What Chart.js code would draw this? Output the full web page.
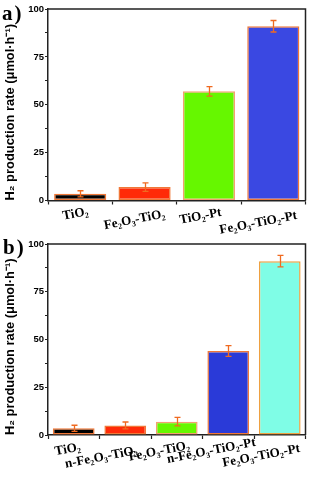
<!DOCTYPE html>
<html><head><meta charset="utf-8">
<script src="https://cdn.jsdelivr.net/npm/chart.js@4.4.1/dist/chart.umd.min.js"></script>
<style>
html,body{margin:0;padding:0;background:#fff;width:309px;height:477px;overflow:hidden;position:relative}
.p{position:absolute;left:0;width:309px}
.lab{position:absolute;font:bold 21px "Liberation Serif",serif;color:#000;z-index:2;line-height:1;letter-spacing:2px}
</style></head><body>
<div class="p" style="top:0;height:236px"><canvas id="ca" width="309" height="236"></canvas></div>
<div class="p" style="top:235px;height:242px"><canvas id="cb" width="309" height="242"></canvas></div>
<div class="lab" style="left:2px;top:3px">a)</div>
<div class="lab" style="left:3px;top:237px">b)</div>
<script>
// ---- data ----
const catsA = ['TiO₂', 'Fe₂O₃-TiO₂', 'TiO₂-Pt', 'Fe₂O₃-TiO₂-Pt'];
const valsA = [3.5, 7, 57, 91];
const errA  = [1.6, 2.2, 2.5, 3];

const catsB = ['TiO₂', 'n-Fe₂O₃-TiO₂', 'Fe₂O₃-TiO₂', 'n-Fe₂O₃-TiO₂-Pt', 'Fe₂O₃-TiO₂-Pt'];
const valsB = [3.5, 5, 7, 44, 91];
const errB  = [1.6, 1.8, 2.2, 2.8, 3];

const yTicks = [0, 25, 50, 75, 100];
const yTitle = 'H₂ production rate (μmol·h⁻¹)';

// ---- styles ----
const colA = ['#000000', '#ff2a08', '#66f700', '#3a48e2'];
const borderA = ['#f07838', '#f07838', '#f4a070', '#f07838'];
const colB = ['#000000', '#ff2a08', '#66f700', '#2a3ad8', '#7ffde6'];
const borderB = ['#f07838', '#f07838', '#f4a070', '#f07838', '#eea040'];
// label placement nudges (label centre relative to tick / axis line), layout only
const nudgeA = [[-4.7, 13.5], [-10, 19.5], [-8.5, 16], [-15, 22.5]];
const nudgeB = [[-6, 14.5], [-24, 22.5], [-17.5, 16.5], [-17, 16], [-18.5, 21]];

const framePlugin = {
  id: 'frame',
  afterDatasetsDraw(chart) {
    const ctx = chart.ctx;
    const meta = chart.getDatasetMeta(0);
    const ys = chart.scales.y;
    const errs = chart.options.plugins.frame.errors;
    const vals = chart.data.datasets[0].data;
    ctx.save();
    ctx.strokeStyle = '#f06a20';
    ctx.lineWidth = 1.3;
    meta.data.forEach((bar, i) => {
      const x = Math.round(bar.x) + 0.5;
      const yt = ys.getPixelForValue(vals[i] + errs[i]);
      const yb = ys.getPixelForValue(vals[i] - errs[i]);
      ctx.beginPath();
      ctx.moveTo(x, yt); ctx.lineTo(x, yb);
      ctx.moveTo(x - 3, yt); ctx.lineTo(x + 3, yt);
      ctx.moveTo(x - 3, yb); ctx.lineTo(x + 3, yb);
      ctx.stroke();
    });
    ctx.restore();
  },
  afterDraw(chart) {
    const ctx = chart.ctx, a = chart.chartArea;
    ctx.save();
    ctx.strokeStyle = '#222';
    ctx.lineWidth = 1.5;
    ctx.beginPath();
    ctx.moveTo(a.left, a.top); ctx.lineTo(a.right, a.top); ctx.lineTo(a.right, a.bottom);
    ctx.stroke();
    // category labels, rotated like the original figure
    const xs = chart.scales.x;
    const nudge = chart.options.plugins.frame.nudge;
    ctx.fillStyle = '#000';
    ctx.font = 'bold 13px "Liberation Serif", serif';
    ctx.textAlign = 'center';
    ctx.textBaseline = 'middle';
    chart.data.labels.forEach((lab, i) => {
      const px = xs.getPixelForValue(i) + nudge[i][0];
      const py = xs.top + nudge[i][1];
      ctx.save();
      ctx.translate(px, py);
      ctx.rotate(-11 * Math.PI / 180);
      ctx.fillText(lab, 0, 0);
      ctx.restore();
    });
    ctx.restore();
  }
};

function makeChart(id, cats, vals, errs, cols, borders, xHeight, nudge) {
  return new Chart(document.getElementById(id), {
    type: 'bar',
    data: {
      labels: cats,
      datasets: [{
        data: vals,
        backgroundColor: cols,
        borderColor: borders,
        borderWidth: 1.5,
        borderSkipped: false,
        barPercentage: 0.81,
        categoryPercentage: 1
      }]
    },
    options: {
      responsive: false,
      animation: false,
      layout: { padding: { top: 9, right: 3.5, left: 0, bottom: 0 } },
      plugins: { legend: { display: false }, tooltip: { enabled: false }, frame: { errors: errs, nudge: nudge } },
      scales: {
        x: {
          offset: true,
          grid: { drawOnChartArea: false, drawTicks: true, tickLength: 4, color: '#222', tickWidth: 1.2 },
          border: { color: '#222', width: 1.5 },
          ticks: { display: false },
          afterFit(s) { s.height = xHeight; }
        },
        y: {
          min: 0, max: 100,
          afterBuildTicks(s) {
            const t = [];
            for (let i = 0; i < yTicks.length; i++) {
              t.push({ value: yTicks[i] });
              if (i < yTicks.length - 1) t.push({ value: (yTicks[i] + yTicks[i + 1]) / 2, minor: true });
            }
            s.ticks = t;
          },
          grid: { drawOnChartArea: false, tickLength: 3, color: '#222', tickWidth: 1.2 },
          border: { color: '#222', width: 1.5 },
          ticks: {
            padding: 1,
            color: '#000',
            font: { family: '"Liberation Sans", Arial, sans-serif', weight: 'bold', size: 9.5 },
            callback(v) { return yTicks.includes(v) ? String(v) : ''; }
          },
          title: {
            display: true, text: yTitle, color: '#000', align: 'start', padding: { top: 3, bottom: 0 },
            font: { family: '"Liberation Sans", Arial, sans-serif', weight: 'bold', size: 12.9 }
          },
          afterFit(s) { s.width = 48; }
        }
      }
    },
    plugins: [framePlugin]
  });
}

makeChart('ca', catsA, valsA, errA, colA, borderA, 35.5, nudgeA);
makeChart('cb', catsB, valsB, errB, colB, borderB, 42, nudgeB);
</script>
</body></html>
